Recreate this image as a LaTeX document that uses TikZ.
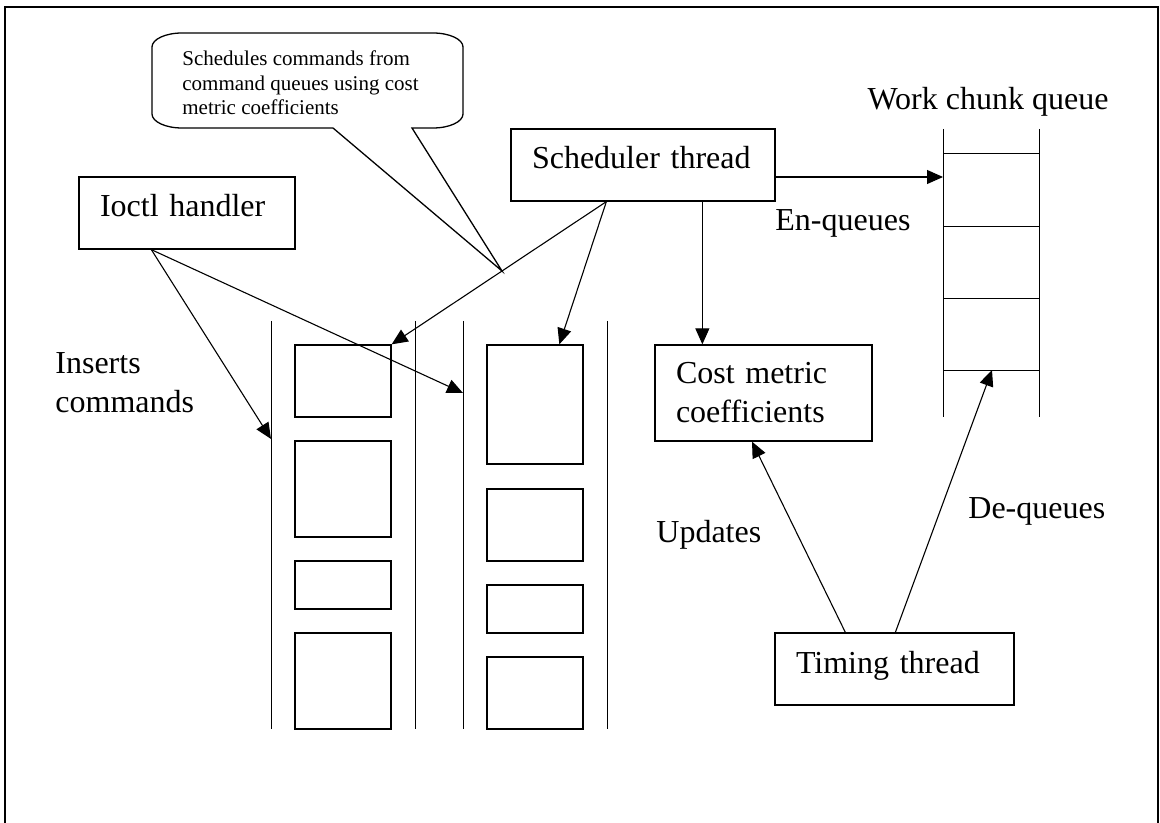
\documentclass[tikz,border=0pt]{standalone}
\usepackage{fontspec}
\setmainfont{Liberation Serif}
\usetikzlibrary{arrows.meta, calc, positioning}

\tikzset{
  box/.style={draw, line width=0.65pt, inner xsep=10.5pt, align=left,
    font=\fontsize{16}{19.5}\selectfont},
  onelinebox/.style={box, text height=11pt, text depth=7pt, minimum height=36pt},
  cell/.style={draw, line width=0.65pt, minimum width=48pt, inner sep=0pt},
  wall/.style={line width=0.45pt},
  arr/.style={line width=0.55pt, -{Triangle[length=8pt,width=7pt]}},
  lbl/.style={font=\fontsize{16}{19.5}\selectfont, inner sep=0pt, align=left},
}

\begin{document}
\begin{tikzpicture}[x=0.5pt, y=-0.5pt]
    \useasboundingbox (0,0) rectangle (1160,823);
    \draw[line width=0.65pt] (5,823) -- (5,7) -- (1158,7) -- (1158,823);

    % threads and handler
    \node[onelinebox, text width=87pt] (ioctl) at (187,213) {Ioctl handler};
    \node[onelinebox, text width=111pt] (sched) at (643,165) {Scheduler thread};
    \node[box, text width=87.5pt, minimum height=48pt] (cost) at (763.5,393) {Cost metric\\coefficients};
    \node[onelinebox, text width=98.5pt] (timing) at (894.5,669) {Timing thread};

    % callout
    \node[anchor=base west, inner sep=0pt, align=left,
          font=\fontsize{10.5}{12.25}\selectfont] (note) at (182,115)
          {Schedules commands from\\command queues using cost\\metric coefficients};
    \coordinate (tip) at (502,271);
    \draw[line width=0.65pt] (333,128) -- (tip) -- (412,128) -- (433,128)
        arc[start angle=-90, end angle=0, x radius=15pt, y radius=7pt] -- (463,47)
        arc[start angle=0, end angle=90, x radius=15pt, y radius=7pt] -- (182,33)
        arc[start angle=90, end angle=180, x radius=15pt, y radius=7pt] -- (152,114)
        arc[start angle=180, end angle=270, x radius=15pt, y radius=7pt] -- cycle;

    % command queues
    \foreach \x in {271,415,463,607}
        \draw[wall] (\x,321) -- (\x,729);
    \foreach \n/\y/\h in {1/381/36, 2/489/48, 3/585/24, 4/681/48}
        \node[cell, minimum height=\h*1pt] (c\n) at (343,\y) {};
    \foreach \n/\y/\h in {1/404.5/59.5, 2/525/36, 3/609/24, 4/693/36}
        \node[cell, minimum height=\h*1pt] (d\n) at (535,\y) {};
    \coordinate (lq) at (271,439);
    \coordinate (rq) at (463,393);

    % work chunk queue
    \draw[wall] (943,129) -- (943,417);
    \draw[wall] (1039,129) -- (1039,417);
    \foreach \y in {153,226,298,370}
        \draw[wall] (943,\y) -- (1039,\y);
    \coordinate (wqin) at (943,177);
    \coordinate (wqout) at (992,370);

    % connectors
    \draw[arr] ($(ioctl.south west)+(73,0)$) -- (lq);
    \draw[arr] ($(ioctl.south west)+(73,0)$) -- (rq);
    \draw[arr] ($(sched.south west)+(96,0)$) -- (c1.north east);
    \draw[arr] ($(sched.south west)+(96,0)$) -- ($(d1.north west)!0.75!(d1.north east)$);
    \draw[arr] ($(sched.south west)+(192,0)$) coordinate (sd) -- (sd |- cost.north);
    \draw[arr] ($(sched.east)+(0,12)$) -- (wqin);
    \draw[arr] ($(timing.north west)+(71,0)$) -- ($(cost.south)+(-11.5,0)$);
    \draw[arr] ($(timing.north west)+(121,0)$) -- (wqout);

    % labels
    \node[lbl, anchor=base] (wqlabel) at (988,110) {Work chunk queue};
    \node[lbl, anchor=base west] (enq) at (775,231) {En-queues};
    \node[lbl, anchor=base west] (ins) at (55,412) {Inserts\\commands};
    \node[lbl, anchor=base west] (upd) at (656,542) {Updates};
    \node[lbl, anchor=base west] (deq) at (968,518) {De-queues};
\end{tikzpicture}
\end{document}
